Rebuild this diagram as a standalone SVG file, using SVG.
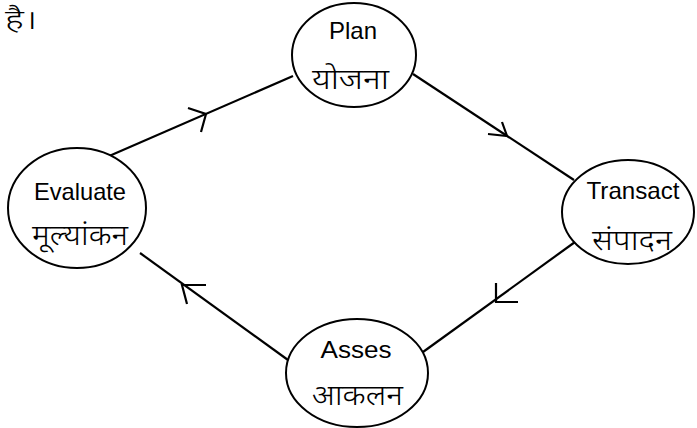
<svg xmlns="http://www.w3.org/2000/svg" width="697" height="428" viewBox="0 0 697 428">
<style>
.node{fill:#fff;stroke:#000;stroke-width:2}
.lbl{font-family:"Liberation Sans",Arial,sans-serif;font-size:24px;fill:#000;text-anchor:middle}
.hi{font-family:"Noto Sans Devanagari","Lohit Devanagari","Noto Sans","Liberation Sans",sans-serif;font-size:29px;font-weight:300;fill:#000;text-anchor:middle}
.edge{fill:none;stroke:#000;stroke-width:2.2}
</style>
<rect width="697" height="428" fill="#fff"/>
<text class="hi" x="21" y="29" textLength="32" lengthAdjust="spacingAndGlyphs" style="font-size:27px">है।</text>
<g id="connectors">
<line class="edge" x1="100" y1="160" x2="293" y2="76"/>
<polyline class="edge" points="188,108 206,114 201,132"/>
<line class="edge" x1="413" y1="74" x2="574" y2="180"/>
<polyline class="edge" points="502,122 507,136 488,134"/>
<line class="edge" x1="575" y1="242" x2="423" y2="352"/>
<polyline class="edge" points="496,283 496,302 518,302"/>
<line class="edge" x1="288" y1="360" x2="140" y2="253"/>
<polyline class="edge" points="206,285 182,285 187,304"/>
</g>
<g id="plan">
<ellipse class="node" cx="354" cy="55" rx="62" ry="52"/>
<text class="lbl" x="353" y="39" textLength="48" lengthAdjust="spacingAndGlyphs">Plan</text>
<text class="hi" x="350.5" y="89" textLength="77" lengthAdjust="spacingAndGlyphs">योजना</text>
</g>
<g id="evaluate">
<ellipse class="node" cx="77" cy="208" rx="69" ry="60"/>
<text class="lbl" x="80" y="200" textLength="92" lengthAdjust="spacingAndGlyphs">Evaluate</text>
<text class="hi" x="80" y="245" textLength="96" lengthAdjust="spacingAndGlyphs">मूल्यांकन</text>
</g>
<g id="transact">
<ellipse class="node" cx="628" cy="212" rx="66" ry="52"/>
<text class="lbl" x="633" y="199" textLength="93" lengthAdjust="spacingAndGlyphs">Transact</text>
<text class="hi" x="632" y="250" textLength="80" lengthAdjust="spacingAndGlyphs">संपादन</text>
</g>
<g id="asses">
<ellipse class="node" cx="357" cy="373" rx="71" ry="54"/>
<text class="lbl" x="356" y="358" textLength="71" lengthAdjust="spacingAndGlyphs">Asses</text>
<text class="hi" x="357.5" y="405" textLength="91" lengthAdjust="spacingAndGlyphs">आकलन</text>
</g>
</svg>
